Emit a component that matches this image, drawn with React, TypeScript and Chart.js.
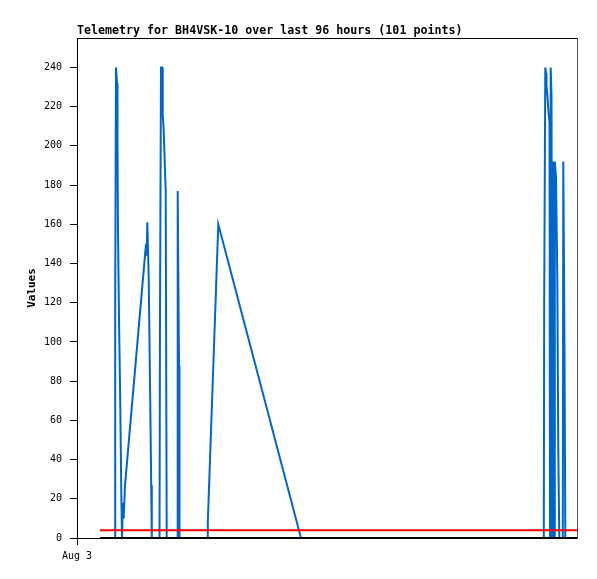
import React, { useEffect, useRef } from "react";
import { Chart, registerables } from "chart.js";

Chart.register(...registerables);

const chartTitle = "Telemetry for BH4VSK-10 over last 96 hours (101 points)";
const yAxisTitle = "Values";
const xTickValues = [0];
const xTickLabels = ["Aug 3"];
const yTickValues = [0, 20, 40, 60, 80, 100, 120, 140, 160, 180, 200, 220, 240];

// hours since Aug 3 00:00
const telemetryHours = [
  7.6, 7.64, 7.8, 8.0, 8.1, 8.2, 8.4, 8.66, 8.86, 9.0,
  9.2, 9.34, 9.6, 13.8, 13.94, 14.06, 14.34, 14.6, 14.84, 14.96,
  16.5, 16.6, 16.8, 17.0, 17.14, 17.34, 17.54, 17.74, 17.94,
  20.06, 20.14, 20.4, 20.5,
  26.06, 26.16, 28.26, 44.8,
  93.36, 93.44, 93.66, 93.8, 93.9, 94.1, 94.3, 94.5, 94.6, 94.74, 94.9, 95.06,
  95.16, 95.3, 95.46, 95.56, 95.8, 96.06, 96.26, 96.46,
  97.16, 97.26, 97.5, 97.66,
];
const telemetryValues = [
  0, 120, 240, 232, 202, 157, 112, 67, 23, 0,
  18, 10, 27, 150, 144, 161, 133, 80, 27, 0,
  0, 112, 240, 240, 216, 208, 192, 177, 0,
  0, 177, 88, 0,
  0, 8, 160, 0,
  0, 120, 240, 237, 231, 225, 217, 212, 0, 240, 225, 0,
  192, 184, 0, 192, 184, 133, 44, 0,
  0, 192, 97, 0,
];
const limitHours = [4.6, 100];
const limitValues = [4, 4];
const baseHours = [4.6, 100];
const baseValues = [0, 0];

const FONT = "'DejaVu Sans Mono', monospace";

const framePlugin = {
  id: "frame",
  beforeDatasetsDraw(chart: any) {
    const { ctx, chartArea } = chart;
    const { left, right, top, bottom } = chartArea;
    ctx.save();
    ctx.lineWidth = 1;
    ctx.strokeStyle = "#000";
    ctx.beginPath();
    ctx.moveTo(left, top + 0.5);
    ctx.lineTo(right + 1, top + 0.5);
    ctx.stroke();
    ctx.strokeStyle = "#555";
    ctx.beginPath();
    ctx.moveTo(right + 0.5, top);
    ctx.lineTo(right + 0.5, bottom + 1);
    ctx.stroke();
    ctx.restore();
  },
};

export default function App() {
  const ref = useRef<HTMLCanvasElement>(null);

  useEffect(() => {
    document.body.style.margin = "0";
    document.body.style.overflow = "hidden";
    const toPoints = (xs: number[], ys: number[]) => xs.map((x, i) => ({ x, y: ys[i] }));
    const chart = new Chart(ref.current as HTMLCanvasElement, {
      type: "line",
      data: {
        datasets: [
          {
            label: "base",
            data: toPoints(baseHours, baseValues),
            borderColor: "#000000",
            borderWidth: 2,
            pointRadius: 0,
            fill: false,
            tension: 0,
          },
          {
            label: "limit",
            data: toPoints(limitHours, limitValues),
            borderColor: "#ff0000",
            borderWidth: 2,
            pointRadius: 0,
            fill: false,
            tension: 0,
          },
          {
            label: "telemetry",
            data: toPoints(telemetryHours, telemetryValues),
            borderColor: "#0066cc",
            borderWidth: 2,
            pointRadius: 0,
            fill: false,
            tension: 0,
          },
        ],
      },
      options: {
        animation: false,
        responsive: false,
        devicePixelRatio: 1,
        layout: { padding: { left: 0, right: 20, top: 0, bottom: 0 } },
        plugins: {
          legend: { display: false },
          tooltip: { enabled: false },
          title: {
            display: true,
            text: chartTitle,
            align: "start",
            fullSize: false,
            color: "#000",
            font: { family: FONT, size: 11.65, weight: "bold", lineHeight: 1 },
            padding: { top: 25.2, bottom: 1.15 },
          },
        },
        scales: {
          x: {
            type: "linear",
            min: 0,
            max: 100,
            position: "bottom",
            afterFit: (s: any) => {
              s.height = 41;
            },
            afterBuildTicks: (s: any) => {
              s.ticks = xTickValues.map((v) => ({ value: v }));
            },
            ticks: {
              autoSkip: false,
              maxRotation: 0,
              padding: 5,
              color: "#000",
              font: { family: FONT, size: 10 },
              callback: (_v: any, i: number) => xTickLabels[i] ?? "",
            },
            grid: { drawOnChartArea: false, drawTicks: true, tickLength: 7, color: "#000" },
            border: { display: true, color: "#000", width: 1 },
          },
          y: {
            type: "linear",
            min: 0,
            max: 255,
            afterFit: (s: any) => {
              s.width = 77;
            },
            afterBuildTicks: (s: any) => {
              s.ticks = yTickValues.map((v) => ({ value: v }));
            },
            ticks: {
              padding: 8,
              color: "#000",
              font: { family: FONT, size: 10 },
            },
            title: {
              display: true,
              text: yAxisTitle,
              color: "#000",
              font: { family: FONT, size: 11, weight: "bold", lineHeight: 1 },
              padding: { top: 26.5, bottom: 0 },
            },
            grid: { drawOnChartArea: false, drawTicks: true, tickLength: 7, color: "#000" },
            border: { display: true, color: "#000", width: 1 },
          },
        },
      } as any,
      plugins: [framePlugin],
    });
    return () => chart.destroy();
  }, []);

  return (
    <div style={{ width: 597, height: 579 }}>
      <canvas ref={ref} width={597} height={579} style={{ display: "block" }} />
    </div>
  );
}
